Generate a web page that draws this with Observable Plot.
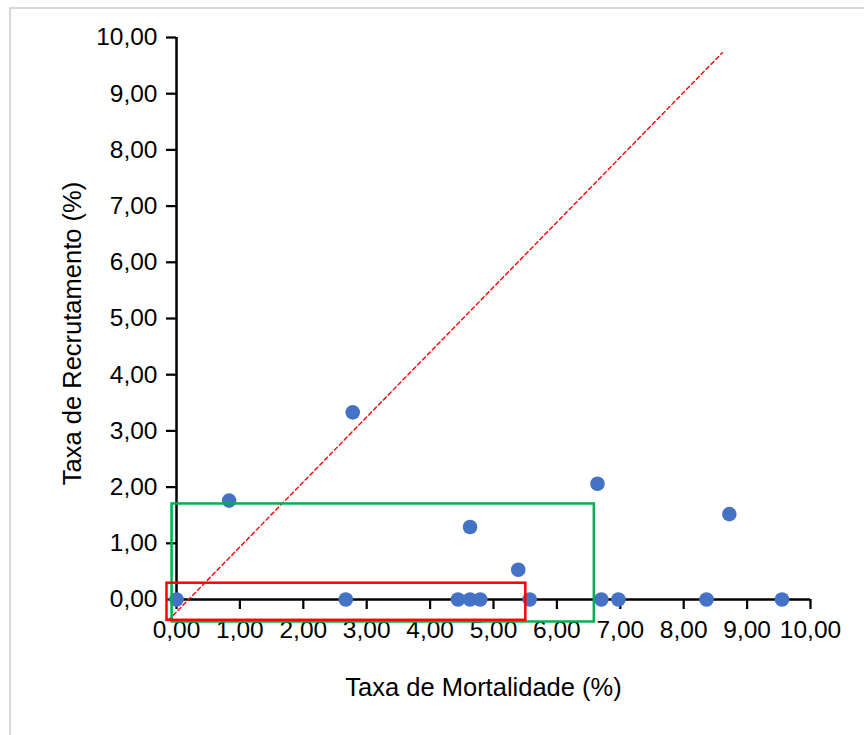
<!DOCTYPE html>
<html>
<head>
<meta charset="utf-8">
<script src="https://cdn.jsdelivr.net/npm/d3@7"></script>
<script src="https://cdn.jsdelivr.net/npm/@observablehq/plot@0.6"></script>
<style>
  html, body { margin: 0; padding: 0; background: #fff; }
  #wrap { position: relative; width: 864px; height: 735px; overflow: hidden; }
  #frame { position: absolute; left: 9px; top: 7px; right: -10px; bottom: -10px;
           border-left: 2px solid #d9d9d9; border-top: 2px solid #d9d9d9; }
  #chart { position: absolute; left: 0; top: 0; }
</style>
</head>
<body>
<div id="wrap"><div id="frame"></div><div id="chart"></div></div>
<script>
// Mortality (x) and recruitment (y) rates per plot, in %
const mortalidade = [0.00, 0.83, 2.78, 2.67, 4.44, 4.63, 4.79, 5.39, 5.57, 4.63, 6.64, 8.72, 6.70, 6.97, 8.36, 9.55];
const recrutamento = [0.00, 1.76, 3.33, 0.00, 0.00, 0.00, 0.00, 0.53, 0.00, 1.29, 2.06, 1.52, 0.00, 0.00, 0.00, 0.00];

// Axis ticks
const xTicks = [0, 1, 2, 3, 4, 5, 6, 7, 8, 9, 10];
const yTicks = [0, 1, 2, 3, 4, 5, 6, 7, 8, 9, 10];

// Reference line endpoints (data units)
const linhaX = [-0.13, 8.61];
const linhaY = [-0.37, 9.73];

// Highlight boxes (data units)
const caixaVermelha = {x1: -0.15, x2: 5.51, y1: -0.37, y2: 0.29};
const caixaVerde = {x1: -0.07, x2: 6.59, y1: -0.40, y2: 1.70};

const pontos = mortalidade.map((m, i) => ({m, r: recrutamento[i]}));
const linha = linhaX.map((x, i) => ({x, y: linhaY[i]}));
const fmt = d => d.toFixed(2).replace(".", ",");
const font = "'Liberation Sans', Arial, sans-serif";

const chart = Plot.plot({
  width: 864,
  height: 735,
  marginLeft: 176,
  marginRight: 54,
  marginTop: 37,
  marginBottom: 136,
  style: {fontFamily: font, fontSize: "24.5px", background: "transparent", color: "#000"},
  x: {domain: [0, 10]},
  y: {domain: [0, 10]},
  marks: [
    Plot.axisX({ticks: xTicks, tickFormat: fmt, tickSize: 10, tickPadding: 11, strokeWidth: 2.25,
                label: null, fontSize: 24.5, fill: "#000"}),
    Plot.axisY({ticks: yTicks, tickFormat: fmt, tickSize: 10, tickPadding: 9, strokeWidth: 2.25,
                label: null, fontSize: 24.5, fill: "#000"}),
    Plot.ruleX([0], {stroke: "#000", strokeWidth: 2.5}),
    Plot.ruleY([0], {stroke: "#000", strokeWidth: 2.5}),
    Plot.dot(pontos, {x: "m", y: "r", r: 7.3, fill: "#4472C4", stroke: "none"}),
    Plot.line(linha, {x: "x", y: "y", stroke: "#ff0000", strokeWidth: 1.4, strokeDasharray: "4,3"}),
    Plot.rect([caixaVerde], {x1: "x1", x2: "x2", y1: "y1", y2: "y2", fill: "none", stroke: "#00B050", strokeWidth: 2.5}),
    Plot.rect([caixaVermelha], {x1: "x1", x2: "x2", y1: "y1", y2: "y2", fill: "none", stroke: "#ff0000", strokeWidth: 2.5}),
    Plot.text(["Taxa de Mortalidade (%)"], {frameAnchor: "bottom", dx: -10, dy: 88, fontSize: 25.5,
                fill: "#000", textAnchor: "middle", lineAnchor: "middle"}),
    Plot.text(["Taxa de Recrutamento (%)"], {frameAnchor: "left", dx: -104, dy: 15, rotate: -90, fontSize: 25.5,
                fill: "#000", textAnchor: "middle", lineAnchor: "middle"})
  ]
});
document.getElementById("chart").appendChild(chart);
</script>
</body>
</html>
